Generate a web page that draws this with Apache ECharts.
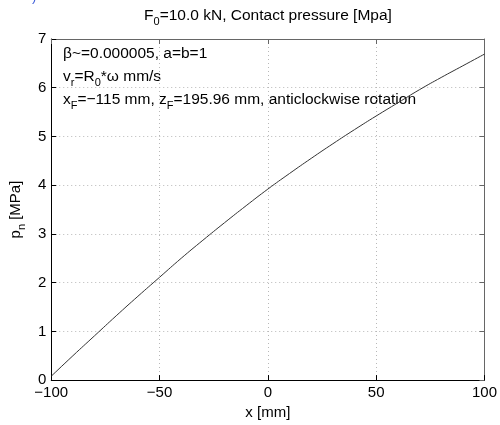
<!DOCTYPE html>
<html>
<head>
<meta charset="utf-8">
<script src="https://cdn.jsdelivr.net/npm/echarts@6/dist/echarts.min.js"></script>
<style>
  html, body { margin: 0; padding: 0; background: #fff; }
  #chart { width: 500px; height: 425px; }
</style>
</head>
<body>
<div id="chart"></div>
<script>
// Contact pressure along the contact length
const xPositions = [-100, -90, -80, -70, -60, -50, -40, -30, -20, -10, 0, 10, 20, 30, 40, 50, 60, 70, 80, 90, 100];
const pressure   = [0.08, 0.50, 0.91, 1.32, 1.72, 2.11, 2.50, 2.87, 3.23, 3.58, 3.92, 4.24, 4.55, 4.85, 5.14, 5.42, 5.69, 5.96, 6.21, 6.45, 6.69];
const xTicks = [-100, -50, 0, 50, 100];
const yTicks = [0, 1, 2, 3, 4, 5, 6, 7];

const FONT = '"Liberation Sans", Arial, Helvetica, sans-serif';
const seriesData = xPositions.map((x, i) => [x, pressure[i]]);
const minus = v => String(v).replace('-', '\u2212');

const base = { fontFamily: FONT, fontSize: 15.5, color: '#000', lineHeight: 18, verticalAlign: 'top' };
const sub = { fontFamily: FONT, fontSize: 11, color: '#000', lineHeight: 13, verticalAlign: 'top', padding: [8, 0, 0, 0] };
const richStyles = { n: base, s: sub };

const baseAx = { fontFamily: FONT, fontSize: 15, color: '#000', lineHeight: 17, verticalAlign: 'top' };
const subAx = { fontFamily: FONT, fontSize: 11, color: '#000', lineHeight: 13, verticalAlign: 'top', padding: [8, 0, 0, 0] };

const chart = echarts.init(document.getElementById('chart'), null, { renderer: 'canvas' });

const gridLine = { show: true, lineStyle: { color: '#b8b8b8', type: [1, 3], width: 1 } };

chart.setOption({
  animation: false,
  backgroundColor: '#fff',
  grid: { left: 49, right: 13, top: 39, bottom: 39, containLabel: false },
  xAxis: [{
    type: 'value', min: -100, max: 100, interval: 50,
    axisLine: { show: true, onZero: false, lineStyle: { color: '#000', width: 1 } },
    axisTick: { show: true, inside: true, length: 5, lineStyle: { color: '#000' } },
    axisLabel: { fontFamily: FONT, fontSize: 15, color: '#000', margin: 5,
      formatter: v => xTicks.includes(v) ? minus(v) : '' },
    splitLine: gridLine,
    name: 'x [mm]', nameLocation: 'middle', nameGap: 17,
    nameTextStyle: { fontFamily: FONT, fontSize: 15, color: '#000' }
  }, {
    type: 'value', position: 'top', min: -100, max: 100, interval: 50,
    axisLine: { show: true, onZero: false, lineStyle: { color: '#666', width: 1 } },
    axisTick: { show: true, inside: true, length: 5, lineStyle: { color: '#666' } },
    axisLabel: { show: false }, splitLine: { show: false }
  }],
  yAxis: [{
    type: 'value', min: 0, max: 7, interval: 1,
    axisLine: { show: true, onZero: false, lineStyle: { color: '#000', width: 1 } },
    axisTick: { show: true, inside: true, length: 5, lineStyle: { color: '#000' } },
    axisLabel: { fontFamily: FONT, fontSize: 15, color: '#000', margin: 5,
      formatter: v => yTicks.includes(v) ? String(v) : '' },
    splitLine: gridLine,
    name: '{n|p}{s|n}{n| [MPa]}', nameLocation: 'middle', nameGap: 15, nameRotate: 90,
    nameTextStyle: { rich: { n: baseAx, s: subAx } }
  }, {
    type: 'value', position: 'right', min: 0, max: 7, interval: 1,
    axisLine: { show: true, onZero: false, lineStyle: { color: '#666', width: 1 } },
    axisTick: { show: true, inside: true, length: 5, lineStyle: { color: '#666' } },
    axisLabel: { show: false }, splitLine: { show: false }
  }],
  series: [{
    type: 'line', data: seriesData, smooth: true, symbol: 'none',
    xAxisIndex: 0, yAxisIndex: 0,
    lineStyle: { color: '#333', width: 1 }
  }],
  graphic: [
    { type: 'text', x: 268, y: 8, silent: true,
      style: { align: 'center', text: '{n|F}{s|0}{n|=10.0 kN, Contact pressure [Mpa]}', rich: richStyles } },
    { type: 'text', x: 63, y: 46, silent: true,
      style: { text: '{n|\u03b2~=0.000005, a=b=1}', rich: richStyles } },
    { type: 'text', x: 63, y: 69, silent: true,
      style: { text: '{n|v}{s|r}{n|=R}{s|0}{n|*\u03c9 mm/s}', rich: richStyles } },
    { type: 'text', x: 63, y: 92, silent: true,
      style: { text: '{n|x}{s|F}{n|=\u2212115 mm, z}{s|F}{n|=195.96 mm, anticlockwise rotation}', rich: richStyles } },
    { type: 'text', x: 32, y: -9, silent: true,
      style: { text: ')', fontFamily: FONT, fontSize: 13, fill: '#3a5ad8' } }
  ]
});
</script>
</body>
</html>
